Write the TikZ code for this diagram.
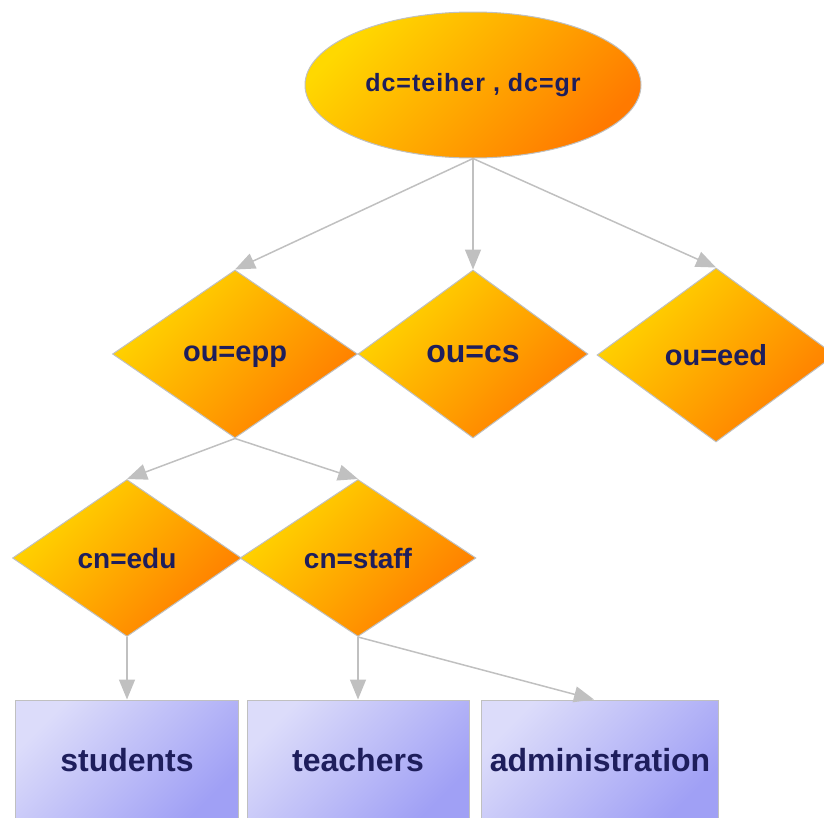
\documentclass[tikz,border=0pt]{standalone}
\usepackage{xcolor}
\usepackage{fontspec}
\setmainfont{Liberation Sans}
\usepackage{tikz}
\usetikzlibrary{arrows.meta, shapes.geometric}

\definecolor{linegray}{HTML}{C0C0C0}
\definecolor{labelblue}{HTML}{1E1E5C}
\definecolor{goldtop}{HTML}{FFD800}
\definecolor{orangebot}{HTML}{FF7A00}
\definecolor{lilactop}{HTML}{DCDCFA}
\definecolor{lilacbot}{HTML}{A0A0F5}

\tikzset{
    dcnode/.style={ellipse, draw=linegray, line width=1pt, top color=goldtop, bottom color=orangebot, shading angle=45,
        minimum width=336pt, minimum height=146pt, font=\bfseries\fontsize{25}{25}\selectfont\addfontfeature{LetterSpace=4}, text=labelblue},
    ounode/.style={diamond, draw=linegray, line width=1pt, top color=goldtop, bottom color=orangebot, shading angle=45,
        minimum width=234pt, minimum height=168pt, inner sep=0pt, text depth=0pt, font=\bfseries\fontsize{29}{29}\selectfont, text=labelblue},
    cnnode/.style={ounode, minimum height=157pt, font=\bfseries\fontsize{28}{28}\selectfont},
    leafbox/.style={rectangle, draw=linegray, line width=1pt, top color=lilactop, bottom color=lilacbot, shading angle=45,
        minimum width=223pt, minimum height=120pt, font=\bfseries\fontsize{32}{32}\selectfont, text=labelblue},
    link/.style={-{Triangle[length=20pt, width=16pt]}, draw=linegray, line width=1.5pt}
}

\begin{document}
\begin{tikzpicture}[x=1pt, y=-1pt]
    \useasboundingbox (0,0) rectangle (824,817);

    \node[dcnode] (root) at (473,85) {dc=teiher , dc=gr};

    \node[ounode, minimum width=245pt] (epp) at (235,354) {ou=epp};
    \node[ounode, minimum width=230pt, font=\bfseries\fontsize{32}{32}\selectfont] (cs) at (473,354) {ou=cs};
    \node[ounode, minimum width=238pt, minimum height=174pt] (eed) at (716,355) {ou=eed};

    \node[cnnode, minimum width=229pt] (edu) at (127,558) {cn=edu};
    \node[cnnode, minimum width=236pt] (staff) at (358,558) {cn=staff};

    \node[leafbox] (stud) at (127,760) {students};
    \node[leafbox, minimum width=222pt] (teach) at (358,760) {teachers};
    \node[leafbox, minimum width=237pt] (admin) at (600,760) {administration};

    \draw[link] (root.south) -- (epp.north);
    \draw[link] (root.south) -- (cs.north);
    \draw[link] (root.south) -- (eed.north);
    \draw[link] (epp.south) -- (edu.north);
    \draw[link] (epp.south) -- (staff.north);
    \draw[link] (edu.south) -- (stud.north);
    \draw[link] (staff.south) -- (teach.north);
    \draw[link] (staff.south) -- ([xshift=-6pt]admin.north);
\end{tikzpicture}
\end{document}
